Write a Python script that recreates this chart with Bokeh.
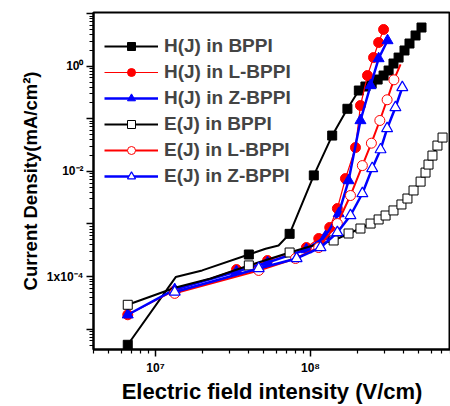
from bokeh.plotting import figure
from bokeh.models import (FixedTicker, CustomJSTickFormatter, Legend, LegendItem,
                          ColumnDataSource, CDSView, IndexFilter)
from bokeh.embed import file_html
from bokeh.resources import INLINE

# ---------------- data ----------------
# H(J) in BPPI (black filled squares)
hb_x = [6.62e6, 1.35e7, 2.0e7, 4.0e7, 5.13e7, 6.22e7, 7.33e7, 1.05e8, 1.38e8, 1.73e8,
        2.05e8, 2.26e8, 2.48e8, 2.71e8, 2.96e8, 3.19e8, 3.43e8, 3.70e8, 4.04e8, 4.35e8,
        4.76e8, 5.20e8]
hb_y = [5.05e-6, 9.8e-5, 1.31e-4, 2.63e-4, 3.38e-4, 3.9e-4, 6.5e-4, 8.4e-3, 0.048, 0.155,
        0.345, 0.411, 0.469, 0.558, 0.665, 0.828, 1.125, 1.46, 1.99, 2.70,
        3.84, 5.44]
hb_marked = [0, 3, 6, 7, 8, 9, 10, 11, 12, 13, 14, 15, 16, 17, 18, 19, 20, 21]

# H(J) in L-BPPI (red filled circles)
hl_x = [6.62e6, 1.33e7, 3.33e7, 5.28e7, 9.4e7, 1.13e8, 1.33e8, 1.49e8, 1.68e8, 1.95e8,
        2.10e8, 2.33e8, 2.55e8, 2.75e8, 2.96e8]
hl_y = [1.88e-5, 5.4e-5, 1.36e-4, 2.02e-4, 3.57e-4, 5.3e-4, 8.6e-4, 1.97e-3, 7.3e-3, 0.0284,
        0.179, 0.665, 1.46, 2.82, 4.99]

# H(J) in Z-BPPI (blue filled triangles)
hz_x = [6.62e6, 1.33e7, 3.33e7, 5.28e7, 9.4e7, 1.25e8, 1.52e8, 1.76e8, 2.10e8, 2.44e8,
        2.75e8, 3.14e8]
hz_y = [1.88e-5, 5.7e-5, 1.25e-4, 1.85e-4, 3.27e-4, 5.8e-4, 1.58e-3, 6.7e-3, 0.0929, 0.43,
        1.40, 3.08]

# E(J) in BPPI (black open squares)
eb_x = [6.62e6, 1.35e7, 2.27e7, 4.0e7, 7.33e7, 1.04e8, 1.41e8, 1.76e8, 2.10e8, 2.44e8,
        2.75e8, 3.05e8, 3.43e8, 3.86e8, 4.22e8, 4.62e8, 5.13e8, 5.52e8, 5.77e8, 6.12e8,
        6.59e8, 7.11e8]
eb_y = [2.91e-5, 6.2e-5, 9.2e-5, 1.63e-4, 2.87e-4, 3.9e-4, 4.86e-4, 6.6e-4, 8.2e-4, 1.02e-3,
        1.22e-3, 1.45e-3, 1.81e-3, 2.35e-3, 3.05e-3, 4.34e-3, 6.4e-3, 9.5e-3, 0.0135, 0.020,
        0.031, 0.044]
eb_marked = [0, 3, 4, 6, 7, 8, 9, 10, 11, 12, 13, 14, 15, 16, 17, 18, 19, 20, 21]

# E(J) in L-BPPI (red open circles)
el_x = [1.33e7, 4.63e7, 8.0e7, 1.13e8, 1.49e8, 1.81e8, 2.16e8, 2.47e8, 2.80e8, 3.12e8,
        3.45e8, 3.81e8]
el_y = [4.8e-5, 1.31e-4, 2.21e-4, 3.57e-4, 1.02e-3, 3.48e-3, 0.0129, 0.0344, 0.0929, 0.23,
        0.551, 1.08]
el_marked = [0, 1, 2, 3, 4, 5, 6, 7, 8, 9, 10]

# E(J) in Z-BPPI (blue open triangles)
ez_x = [1.33e7, 4.63e7, 8.13e7, 1.16e8, 1.49e8, 1.81e8, 2.16e8, 2.50e8, 2.83e8, 3.12e8,
        3.53e8, 3.91e8]
ez_y = [5.1e-5, 1.43e-4, 2.21e-4, 3.57e-4, 6.9e-4, 1.45e-3, 3.8e-3, 0.0114, 0.026, 0.0654,
        0.164, 0.394]

labels = ["H(J) in BPPI", "H(J) in L-BPPI", "H(J) in Z-BPPI",
          "E(J) in BPPI", "E(J) in L-BPPI", "E(J) in Z-BPPI"]
x_label = "Electric field intensity (V/cm)"
y_label = "Current Density(mA/cm\u00b2)"

FONT = "Liberation Sans"

p = figure(width=450, height=406, x_axis_type="log", y_axis_type="log",
           x_range=(3.98e6, 8.0e8), y_range=(4.11e-6, 10.5),
           output_backend="svg", toolbar_location=None,
           min_border_left=93, min_border_right=0, min_border_top=12, min_border_bottom=57)
p.xgrid.visible = False
p.ygrid.visible = False
p.outline_line_color = "black"
p.outline_line_width = 2
p.background_fill_color = "white"
p.border_fill_color = "white"

series = [
    (hb_x, hb_y, hb_marked, "square", "black", "black", 2.0, 9, 1.0),
    (hl_x, hl_y, None, "circle", "red", "red", 1.2, 10, 1.0),
    (hz_x, hz_y, None, "triangle", "blue", "blue", 2.5, 11, 1.0),
    (eb_x, eb_y, eb_marked, "square", "black", "white", 2.0, 9, 1.0),
    (el_x, el_y, el_marked, "circle", "red", "white", 2.0, 10, 1.0),
    (ez_x, ez_y, None, "triangle", "blue", "white", 2.5, 11, 1.2),
]

items = []
for (xs, ys, marked, marker, col, fill, lw, size, mlw), lab in zip(series, labels):
    src = ColumnDataSource(dict(x=xs, y=ys))
    lr = p.line("x", "y", source=src, line_color=col, line_width=lw)
    idx = marked if marked is not None else list(range(len(xs)))
    sr = p.scatter("x", "y", source=src, view=CDSView(filter=IndexFilter(idx)),
                   marker=marker, size=size, line_color=col, fill_color=fill,
                   line_width=mlw)
    items.append(LegendItem(label=lab, renderers=[lr, sr]))

legend = Legend(items=items, location=(11, 162), margin=0, padding=0,
                spacing=4, glyph_width=54, glyph_height=20, label_height=20,
                label_standoff=6, label_text_font=FONT, label_text_font_style="bold",
                label_text_font_size="19px", background_fill_alpha=0,
                border_line_alpha=0)
p.add_layout(legend, "center")

# axes
p.xaxis.ticker = FixedTicker(ticks=[1e6, 1e7, 1e8, 1e9],
                             minor_ticks=[k * 10.0 ** e for e in (6, 7, 8) for k in range(2, 10)])
p.yaxis.ticker = FixedTicker(ticks=[10.0 ** e for e in range(-6, 2)],
                             minor_ticks=[k * 10.0 ** e for e in range(-6, 2) for k in range(2, 10)])
p.xaxis.formatter = CustomJSTickFormatter(code="""
const e = Math.round(Math.log10(tick));
if (e == 7) return "10\u2077";
if (e == 8) return "10\u2078";
return "";
""")
p.yaxis.formatter = CustomJSTickFormatter(code="""
const e = Math.round(Math.log10(tick));
if (e == 0) return "10\u2070";
if (e == -2) return "10\u207b\u00b2";
if (e == -4) return "1x10\u207b\u2074";
return "";
""")
for ax in (p.xaxis[0], p.yaxis[0]):
    ax.axis_line_width = 2
    ax.axis_line_color = "black"
    ax.major_tick_in = 0
    ax.major_tick_out = 7
    ax.minor_tick_in = 0
    ax.minor_tick_out = 4
    ax.major_tick_line_width = 1.5
    ax.minor_tick_line_width = 1.2
    ax.major_label_text_font = FONT
    ax.major_label_text_font_style = "bold"
    ax.major_label_text_font_size = "12px"
    ax.axis_label_text_font = FONT
    ax.axis_label_text_font_style = "bold"
    ax.axis_label_text_color = "black"
    ax.major_label_text_color = "black"

p.xaxis.axis_label = x_label
p.yaxis.axis_label = y_label
p.xaxis.axis_label_text_font_size = "22px"
p.yaxis.axis_label_text_font_size = "18.5px"
p.xaxis.major_label_standoff = 4
p.yaxis.major_label_standoff = 3
p.xaxis.axis_label_standoff = 1
p.yaxis.axis_label_standoff = 3

open("out.html", "w").write(file_html(p, INLINE))
